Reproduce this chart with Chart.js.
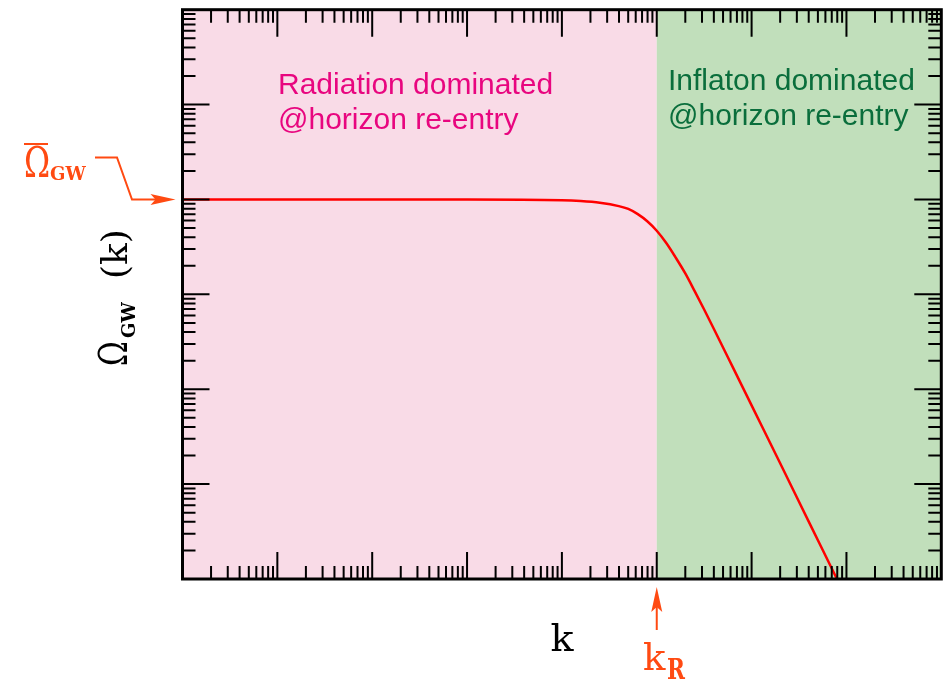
<!DOCTYPE html>
<html>
<head>
<meta charset="utf-8">
<script src="https://cdn.jsdelivr.net/npm/chart.js@4/dist/chart.umd.min.js"></script>
<style>
  html, body { margin: 0; padding: 0; background: #fff; }
  #wrap { width: 949px; height: 681px; position: relative; }
</style>
</head>
<body>
<div id="wrap"><canvas id="c"></canvas></div>
<script>
// Spectrum of the gravitational-wave energy density versus wavenumber
const kValues = [1, 1e3, 1e4, 1.58e4, 2.51e4, 3.98e4, 5.01e4, 6.31e4, 7.94e4, 1e5,
                 1.26e5, 1.58e5, 2e5, 2.51e5, 3.16e5, 3.98e5, 6.31e5, 1e6, 2e6,
                 3.98e6, 7.94e6, 1.58e7];
const omegaValues = [1e-2, 1e-2, 9.82e-3, 9.62e-3, 9.23e-3, 8.51e-3, 7.94e-3, 7.0e-3, 5.89e-3, 4.68e-3,
                     3.47e-3, 2.45e-3, 1.66e-3, 1.08e-3, 6.92e-4, 4.37e-4, 1.72e-4, 6.76e-5, 1.66e-5,
                     4.07e-6, 1e-6, 2.45e-7];

// Axis ranges and the marked values
const kRange = [1, 1e8];
const omegaRange = [1e-6, 1];
const kR = 1e5;
const omegaBar = 1e-2;

// Decade (major) ticks and in-between (minor) multipliers
const kMajorTicks = [1, 1e1, 1e2, 1e3, 1e4, 1e5, 1e6, 1e7, 1e8];
const omegaMajorTicks = [1e-6, 1e-5, 1e-4, 1e-3, 1e-2, 1e-1, 1];
const minorMultipliers = [2, 3, 4, 5, 6, 7, 8, 9];

// Era labels
const radiationLines = ['Radiation dominated', '@horizon re-entry'];
const inflatonLines = ['Inflaton dominated', '@horizon re-entry'];

const ORANGE = '#ff4a12';
const SERIF = '"DejaVu Serif", serif';

function minorOf(majors) {
  const out = [];
  for (let i = 0; i < majors.length - 1; i++) {
    for (const m of minorMultipliers) out.push(majors[i] * m);
  }
  return out;
}

function arrowHead(ctx, tx, ty, dir) {
  // stealth-style head; dir: 'right' or 'up'
  const L = 25, W = 5.5, N = 5;
  ctx.beginPath();
  if (dir === 'right') {
    ctx.moveTo(tx, ty);
    ctx.lineTo(tx - L, ty - W);
    ctx.lineTo(tx - L + N, ty);
    ctx.lineTo(tx - L, ty + W);
  } else {
    ctx.moveTo(tx, ty);
    ctx.lineTo(tx - W, ty + L);
    ctx.lineTo(tx, ty + L - N);
    ctx.lineTo(tx + W, ty + L);
  }
  ctx.closePath();
  ctx.fill();
}

// text drawn with a horizontal stretch factor
function stretchedText(ctx, str, x, y, sx) {
  ctx.save();
  ctx.translate(x, y);
  ctx.scale(sx, 1);
  ctx.fillText(str, 0, 0);
  ctx.restore();
}

const backgroundPlugin = {
  id: 'eras',
  beforeDatasetsDraw(chart) {
    const { ctx, chartArea: a, scales: { x } } = chart;
    const xR = x.getPixelForValue(kR);
    ctx.save();
    ctx.fillStyle = '#f9dbe7';
    ctx.fillRect(a.left, a.top, xR - a.left, a.bottom - a.top);
    ctx.fillStyle = '#c1dfbb';
    ctx.fillRect(xR, a.top, a.right - xR, a.bottom - a.top);

    ctx.font = '30px "Liberation Sans", Arial, sans-serif';
    ctx.textBaseline = 'alphabetic';
    ctx.fillStyle = '#e8067f';
    ctx.fillText(radiationLines[0], 278, 94);
    ctx.fillText(radiationLines[1], 278, 129);
    ctx.fillStyle = '#0a6e3c';
    ctx.fillText(inflatonLines[0], 668, 90);
    ctx.fillText(inflatonLines[1], 668, 125);
    ctx.restore();
  }
};

const framePlugin = {
  id: 'frame',
  afterDatasetsDraw(chart) {
    const { ctx, chartArea: a, scales: { x, y } } = chart;
    ctx.save();
    ctx.strokeStyle = '#000';
    ctx.lineWidth = 2;
    ctx.lineCap = 'butt';
    const majorLen = 27, minorLen = 13;
    const drawX = (vals, len) => {
      for (const v of vals) {
        if (v <= kRange[0] || v >= kRange[1]) continue;
        const p = x.getPixelForValue(v);
        ctx.beginPath();
        ctx.moveTo(p, a.bottom); ctx.lineTo(p, a.bottom - len);
        ctx.moveTo(p, a.top); ctx.lineTo(p, a.top + len);
        ctx.stroke();
      }
    };
    const drawY = (vals, len) => {
      for (const v of vals) {
        if (v <= omegaRange[0] || v >= omegaRange[1]) continue;
        const p = y.getPixelForValue(v);
        ctx.beginPath();
        ctx.moveTo(a.left, p); ctx.lineTo(a.left + len, p);
        ctx.moveTo(a.right, p); ctx.lineTo(a.right - len, p);
        ctx.stroke();
      }
    };
    drawX(kMajorTicks, majorLen);
    drawX(minorOf(kMajorTicks), minorLen);
    drawY(omegaMajorTicks, majorLen);
    drawY(minorOf(omegaMajorTicks), minorLen);

    ctx.lineWidth = 3;
    ctx.strokeRect(a.left, a.top, a.right - a.left, a.bottom - a.top);
    ctx.restore();
  }
};

const labelPlugin = {
  id: 'labels',
  afterDraw(chart) {
    const { ctx, chartArea: a, scales: { x, y } } = chart;
    const sub = 'bold 19px ' + SERIF;
    ctx.save();

    // x-axis title
    ctx.fillStyle = '#000';
    ctx.font = '38px ' + SERIF;
    ctx.textAlign = 'center';
    ctx.fillText('k', 562, 651);

    // y-axis title, rotated
    ctx.save();
    ctx.translate(127, 366);
    ctx.rotate(-Math.PI / 2);
    ctx.textAlign = 'left';
    ctx.font = '40px ' + SERIF;
    stretchedText(ctx, '\u03A9', 0, 0, 0.75);
    ctx.font = sub;
    stretchedText(ctx, 'GW', 28, 8, 0.95);
    ctx.font = '36px ' + SERIF;
    ctx.fillText('(k)', 87, 0);
    ctx.restore();

    // Omega-bar marker at the left
    const yBar = y.getPixelForValue(omegaBar);
    ctx.fillStyle = ORANGE;
    ctx.strokeStyle = ORANGE;
    ctx.textAlign = 'left';
    ctx.font = '42px ' + SERIF;
    stretchedText(ctx, '\u03A9', 24, 177, 0.75);
    ctx.fillRect(24, 143, 24, 2);
    ctx.font = sub;
    stretchedText(ctx, 'GW', 50, 180, 0.95);

    ctx.lineWidth = 2;
    ctx.lineJoin = 'miter';
    ctx.beginPath();
    ctx.moveTo(95, 157.5);
    ctx.lineTo(117, 157.5);
    ctx.lineTo(132, yBar);
    ctx.lineTo(156, yBar);
    ctx.stroke();
    arrowHead(ctx, a.left - 7, yBar, 'right');

    // k_R marker below the axis
    const xR = x.getPixelForValue(kR);
    ctx.beginPath();
    ctx.moveTo(xR, 630);
    ctx.lineTo(xR, 606);
    ctx.stroke();
    arrowHead(ctx, xR, a.bottom + 8, 'up');
    ctx.font = '37px ' + SERIF;
    ctx.fillText('k', 643, 670);
    ctx.font = 'bold 27px ' + SERIF;
    stretchedText(ctx, 'R', 667, 679, 0.8);
    ctx.restore();
  }
};

new Chart(document.getElementById('c'), {
  type: 'line',
  data: {
    datasets: [{
      data: kValues.map((k, i) => ({ x: k, y: omegaValues[i] })),
      borderColor: '#ff0000',
      borderWidth: 2.5,
      pointRadius: 0,
      fill: false,
      cubicInterpolationMode: 'monotone'
    }]
  },
  options: {
    responsive: true,
    maintainAspectRatio: false,
    animation: false,
    layout: { padding: { left: 182.5, right: 7.7, top: 9.7, bottom: 102 } },
    plugins: { legend: { display: false }, tooltip: { enabled: false } },
    scales: {
      x: { type: 'logarithmic', min: kRange[0], max: kRange[1], display: false },
      y: { type: 'logarithmic', min: omegaRange[0], max: omegaRange[1], display: false }
    }
  },
  plugins: [backgroundPlugin, framePlugin, labelPlugin]
});
</script>
</body>
</html>
